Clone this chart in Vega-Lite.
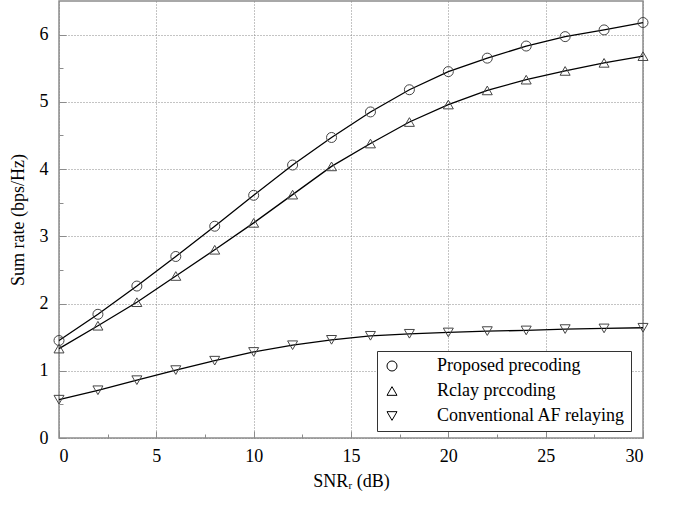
{
  "$schema": "https://vega.github.io/schema/vega-lite/v6.json",
  "width": 584,
  "height": 437,
  "autosize": {"type": "none"},
  "padding": {"left": 59, "top": 1, "right": 38, "bottom": 68},
  "background": "white",
  "config": {
    "font": "Liberation Serif",
    "view": {"stroke": "#8c8c8c", "strokeWidth": 1.5},
    "axis": {
      "labelFont": "Liberation Serif",
      "titleFont": "Liberation Serif",
      "labelFontSize": 18,
      "titleFontSize": 18,
      "titleFontWeight": "normal",
      "labelColor": "black",
      "titleColor": "black",
      "domain": false,
      "tickColor": "#8c8c8c",
      "tickWidth": 1,
      "gridColor": "#888888",
      "gridDash": [1, 2],
      "gridWidth": 1
    }
  },
  "data": {
    "values": [
      {"snr": 0, "rate": 1.45, "scheme": "Proposed precoding"},
      {"snr": 2, "rate": 1.84, "scheme": "Proposed precoding"},
      {"snr": 4, "rate": 2.26, "scheme": "Proposed precoding"},
      {"snr": 6, "rate": 2.70, "scheme": "Proposed precoding"},
      {"snr": 8, "rate": 3.15, "scheme": "Proposed precoding"},
      {"snr": 10, "rate": 3.61, "scheme": "Proposed precoding"},
      {"snr": 12, "rate": 4.06, "scheme": "Proposed precoding"},
      {"snr": 14, "rate": 4.47, "scheme": "Proposed precoding"},
      {"snr": 16, "rate": 4.85, "scheme": "Proposed precoding"},
      {"snr": 18, "rate": 5.18, "scheme": "Proposed precoding"},
      {"snr": 20, "rate": 5.45, "scheme": "Proposed precoding"},
      {"snr": 22, "rate": 5.65, "scheme": "Proposed precoding"},
      {"snr": 24, "rate": 5.83, "scheme": "Proposed precoding"},
      {"snr": 26, "rate": 5.97, "scheme": "Proposed precoding"},
      {"snr": 28, "rate": 6.07, "scheme": "Proposed precoding"},
      {"snr": 30, "rate": 6.18, "scheme": "Proposed precoding"},
      {"snr": 0, "rate": 1.33, "scheme": "Rclay prccoding"},
      {"snr": 2, "rate": 1.67, "scheme": "Rclay prccoding"},
      {"snr": 4, "rate": 2.02, "scheme": "Rclay prccoding"},
      {"snr": 6, "rate": 2.41, "scheme": "Rclay prccoding"},
      {"snr": 8, "rate": 2.80, "scheme": "Rclay prccoding"},
      {"snr": 10, "rate": 3.20, "scheme": "Rclay prccoding"},
      {"snr": 12, "rate": 3.62, "scheme": "Rclay prccoding"},
      {"snr": 14, "rate": 4.04, "scheme": "Rclay prccoding"},
      {"snr": 16, "rate": 4.38, "scheme": "Rclay prccoding"},
      {"snr": 18, "rate": 4.70, "scheme": "Rclay prccoding"},
      {"snr": 20, "rate": 4.96, "scheme": "Rclay prccoding"},
      {"snr": 22, "rate": 5.17, "scheme": "Rclay prccoding"},
      {"snr": 24, "rate": 5.33, "scheme": "Rclay prccoding"},
      {"snr": 26, "rate": 5.46, "scheme": "Rclay prccoding"},
      {"snr": 28, "rate": 5.58, "scheme": "Rclay prccoding"},
      {"snr": 30, "rate": 5.68, "scheme": "Rclay prccoding"},
      {"snr": 0, "rate": 0.57, "scheme": "Conventional AF relaying"},
      {"snr": 2, "rate": 0.71, "scheme": "Conventional AF relaying"},
      {"snr": 4, "rate": 0.86, "scheme": "Conventional AF relaying"},
      {"snr": 6, "rate": 1.01, "scheme": "Conventional AF relaying"},
      {"snr": 8, "rate": 1.15, "scheme": "Conventional AF relaying"},
      {"snr": 10, "rate": 1.28, "scheme": "Conventional AF relaying"},
      {"snr": 12, "rate": 1.38, "scheme": "Conventional AF relaying"},
      {"snr": 14, "rate": 1.46, "scheme": "Conventional AF relaying"},
      {"snr": 16, "rate": 1.52, "scheme": "Conventional AF relaying"},
      {"snr": 18, "rate": 1.55, "scheme": "Conventional AF relaying"},
      {"snr": 20, "rate": 1.57, "scheme": "Conventional AF relaying"},
      {"snr": 22, "rate": 1.59, "scheme": "Conventional AF relaying"},
      {"snr": 24, "rate": 1.60, "scheme": "Conventional AF relaying"},
      {"snr": 26, "rate": 1.62, "scheme": "Conventional AF relaying"},
      {"snr": 28, "rate": 1.63, "scheme": "Conventional AF relaying"},
      {"snr": 30, "rate": 1.64, "scheme": "Conventional AF relaying"}
    ]
  },
  "encoding": {
    "x": {
      "field": "snr",
      "type": "quantitative",
      "scale": {"domain": [0, 30], "nice": false},
      "axis": {
        "title": "SNRᵣ (dB)",
        "values": [0, 2.5, 5, 7.5, 10, 12.5, 15, 17.5, 20, 22.5, 25, 27.5, 30],
        "labelExpr": "datum.value % 5 ? '' : toString(datum.value)",
        "tickSize": {"condition": {"test": "datum.value % 5 !== 0", "value": -4}, "value": -7},
        "gridOpacity": {"condition": {"test": "datum.value % 5 !== 0", "value": 0}, "value": 1},
        "labelPadding": 16,
        "titlePadding": 7
      }
    },
    "y": {
      "field": "rate",
      "type": "quantitative",
      "scale": {"domain": [0, 6.5], "nice": false},
      "axis": {
        "title": "Sum rate (bps/Hz)",
        "values": [0, 0.5, 1, 1.5, 2, 2.5, 3, 3.5, 4, 4.5, 5, 5.5, 6],
        "labelExpr": "datum.value % 1 ? '' : toString(datum.value)",
        "tickSize": {"condition": {"test": "datum.value % 1 !== 0", "value": -4}, "value": -7},
        "gridOpacity": {"condition": {"test": "datum.value % 1 !== 0", "value": 0}, "value": 1},
        "labelPadding": 18,
        "titlePadding": 12
      }
    }
  },
  "layer": [
    {
      "mark": {"type": "line", "color": "black", "strokeWidth": 1.3},
      "encoding": {"detail": {"field": "scheme"}}
    },
    {
      "mark": {"type": "point", "filled": false, "stroke": "#444444", "strokeWidth": 1, "opacity": 1, "size": 100},
      "encoding": {
        "shape": {
          "field": "scheme",
          "type": "nominal",
          "scale": {
            "domain": ["Proposed precoding", "Rclay prccoding", "Conventional AF relaying"],
            "range": ["circle", "triangle-up", "triangle-down"]
          },
          "legend": {
            "title": null,
            "orient": "none",
            "legendX": 318,
            "legendY": 350,
            "padding": 6,
            "strokeColor": "#333333",
            "fillColor": "white",
            "labelFont": "Liberation Serif",
            "labelFontSize": 18,
            "labelColor": "black",
            "labelLimit": 400,
            "symbolSize": 100,
            "symbolStrokeColor": "black",
            "symbolStrokeWidth": 1,
            "labelOffset": 36,
            "rowPadding": 7
          }
        }
      }
    }
  ]
}
